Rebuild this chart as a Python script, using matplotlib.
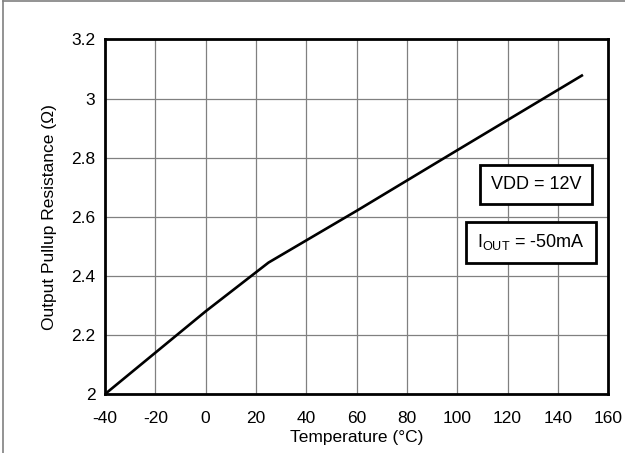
import matplotlib
matplotlib.use("Agg")
import matplotlib.pyplot as plt
from matplotlib.lines import Line2D

plt.rcParams['font.family'] = ['Liberation Sans', 'DejaVu Sans']

# Output pullup resistance vs. temperature
temperature_c = [-40, -20, 0, 25, 60, 100, 150]
resistance_ohm = [2.0, 2.14, 2.28, 2.445, 2.62, 2.825, 3.08]

x_ticks = [-40, -20, 0, 20, 40, 60, 80, 100, 120, 140, 160]
y_ticks = [2.0, 2.2, 2.4, 2.6, 2.8, 3.0, 3.2]
y_tick_labels = ["2", "2.2", "2.4", "2.6", "2.8", "3", "3.2"]

fig = plt.figure(figsize=(6.25, 4.53), dpi=100)
ax = fig.add_axes([0.168, 0.130, 0.805, 0.783])

ax.plot(temperature_c, resistance_ohm, color='black', linewidth=1.9,
        solid_capstyle='butt', zorder=3)

ax.set_xlim(-40, 160)
ax.set_ylim(2.0, 3.2)
ax.set_xticks(x_ticks)
ax.set_xticklabels([str(t) for t in x_ticks])
ax.set_yticks(y_ticks)
ax.set_yticklabels(y_tick_labels)
ax.tick_params(length=0, labelsize=12.5, colors='black')
ax.tick_params(axis='x', pad=12)
ax.tick_params(axis='y', pad=7)
ax.grid(True, color='#808080', linewidth=0.9)
ax.set_axisbelow(True)
for s in ax.spines.values():
    s.set_linewidth(2.0)
    s.set_color('black')

ax.set_xlabel("Temperature (°C)", fontsize=12.5, labelpad=3)
ax.set_ylabel("Output Pullup Resistance (Ω)", fontsize=12.5, labelpad=10)

box = dict(boxstyle='square,pad=0.6', facecolor='white', edgecolor='black',
           linewidth=2.0)
ax.text(131.4, 2.709, "VDD = 12V", fontsize=13, ha='center', va='center',
        bbox=box, zorder=4)
ax.text(129.4, 2.513, r"I$_{\mathregular{OUT}}$ = -50mA", fontsize=13,
        ha='center', va='center', bbox=box, zorder=4)

# outer frame lines (top and left edges of the figure)
fig.add_artist(Line2D([0.005, 0.005], [0, 0.998], transform=fig.transFigure,
                      color='#808080', linewidth=1.2))
fig.add_artist(Line2D([0.005, 1.0], [0.997, 0.997], transform=fig.transFigure,
                      color='#808080', linewidth=1.2))

fig.savefig("out.png", dpi=100)
